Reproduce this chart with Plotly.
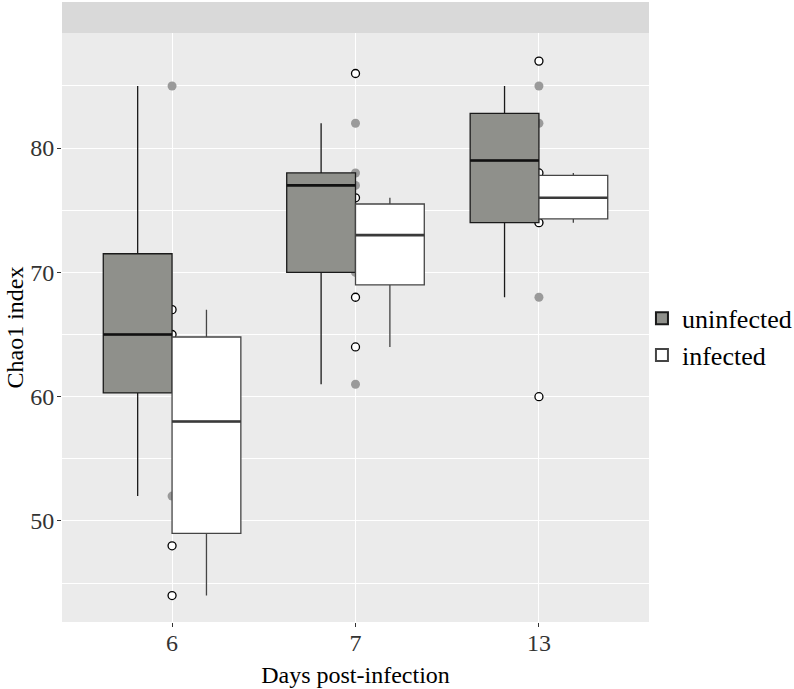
import plotly.graph_objects as go

days = ["6", "7", "13"]

# box statistics
unin_q1 = [60.3, 70.0, 74.0]
unin_med = [65.0, 77.0, 79.0]
unin_q3 = [71.5, 78.0, 82.8]
unin_lo = [52.0, 61.0, 68.0]
unin_hi = [85.0, 82.0, 85.0]

inf_q1 = [49.0, 69.0, 74.3]
inf_med = [58.0, 73.0, 76.0]
inf_q3 = [64.8, 75.5, 77.8]
inf_lo = [44.0, 64.0, 74.0]
inf_hi = [67.0, 76.0, 78.0]

# visible individual observations
unin_pts_x = ["6", "6", "7", "7", "7", "7", "7", "13", "13", "13", "13"]
unin_pts_y = [85, 52, 82, 78, 77, 70, 61, 85, 82, 74, 68]
inf_pts_x = ["6", "6", "6", "6", "7", "7", "7", "7", "13", "13", "13", "13"]
inf_pts_y = [67, 65, 48, 44, 86, 76, 68, 64, 87, 78, 74, 60]

SERIF = "Liberation Serif"
FS = 24

fig = go.Figure()

hidden = dict(boxpoints="all", jitter=0, pointpos=0, fillcolor="rgba(0,0,0,0)",
              line=dict(width=0, color="rgba(0,0,0,0)"), whiskerwidth=0,
              alignmentgroup="pts", offsetgroup="pts", showlegend=False,
              hoverinfo="y")

fig.add_trace(go.Box(x=unin_pts_x, y=unin_pts_y,
                     marker=dict(color="#9a9a9a", size=9, line=dict(width=0)),
                     **hidden))
fig.add_trace(go.Box(x=inf_pts_x, y=inf_pts_y,
                     marker=dict(color="white", size=8, line=dict(width=1.3, color="black")),
                     **hidden))

fig.add_trace(go.Box(name="uninfected", x=days, q1=unin_q1, median=unin_med, q3=unin_q3,
                     lowerfence=unin_lo, upperfence=unin_hi,
                     fillcolor="#8f908b", line=dict(color="#1a1a1a", width=1.3),
                     whiskerwidth=0, boxpoints=False,
                     alignmentgroup="box", offsetgroup="u"))
fig.add_trace(go.Box(name="infected", x=days, q1=inf_q1, median=inf_med, q3=inf_q3,
                     lowerfence=inf_lo, upperfence=inf_hi,
                     fillcolor="white", line=dict(color="#454545", width=1.3),
                     whiskerwidth=0, boxpoints=False,
                     alignmentgroup="box", offsetgroup="i"))

# thicker median bars (degenerate boxes at the median)
fig.add_trace(go.Box(x=days, q1=unin_med, median=unin_med, q3=unin_med,
                     lowerfence=unin_med, upperfence=unin_med,
                     fillcolor="rgba(0,0,0,0)", line=dict(color="#111111", width=2.6),
                     whiskerwidth=0, boxpoints=False, showlegend=False, hoverinfo="skip",
                     alignmentgroup="box", offsetgroup="u"))
fig.add_trace(go.Box(x=days, q1=inf_med, median=inf_med, q3=inf_med,
                     lowerfence=inf_med, upperfence=inf_med,
                     fillcolor="rgba(0,0,0,0)", line=dict(color="#3a3a3a", width=2.6),
                     whiskerwidth=0, boxpoints=False, showlegend=False, hoverinfo="skip",
                     alignmentgroup="box", offsetgroup="i"))

fig.update_layout(
    width=794, height=689,
    margin=dict(l=62, r=145, t=33, b=67, autoexpand=False),
    paper_bgcolor="white", plot_bgcolor="#ebebeb",
    boxmode="group", boxgap=0.25, boxgroupgap=0,
    font=dict(family=SERIF, color="#1a1a1a"),
    showlegend=True,
    legend=dict(x=0.988, xanchor="left", y=0.484, yanchor="middle",
                font=dict(family=SERIF, size=26, color="black"),
                bgcolor="rgba(0,0,0,0)", tracegroupgap=0, itemsizing="constant"),
    shapes=[dict(type="rect", xref="paper", yref="paper", x0=0, x1=1,
                 y0=1, y1=1 + 31 / 589, fillcolor="#d9d9d9", line=dict(width=0),
                 layer="below")],
    annotations=[dict(text="Chao1 index", xref="paper", yref="paper", x=0, y=0.5,
                      xshift=-48, xanchor="center", yanchor="middle", textangle=-90,
                      showarrow=False, font=dict(family=SERIF, size=FS, color="black"))],
)

fig.update_xaxes(
    type="category", categoryorder="array", categoryarray=days,
    range=[-0.6, 2.6], automargin=False,
    showgrid=True, gridcolor="white", gridwidth=1.2,
    ticks="outside", ticklen=4, tickcolor="#333333", ticklabelstandoff=-5,
    tickfont=dict(family=SERIF, size=FS, color="#333333"),
    title=dict(text="Days post-infection", font=dict(family=SERIF, size=FS, color="black"),
               standoff=11),
    zeroline=False, showline=False,
)
fig.update_yaxes(
    range=[41.87, 89.26], automargin=False,
    tickvals=[50, 60, 70, 80],
    showgrid=True, gridcolor="white", gridwidth=1.2,
    minor=dict(tickvals=[45, 55, 65, 75, 85], showgrid=True, gridcolor="white", gridwidth=0.6),
    ticks="outside", ticklen=4, tickcolor="#333333", ticklabelstandoff=-2,
    tickfont=dict(family=SERIF, size=FS, color="#333333"),
    zeroline=False, showline=False,
)

fig.write_html("out.html", config={"displayModeBar": False},
               post_script="document.body.style.margin='0';")
